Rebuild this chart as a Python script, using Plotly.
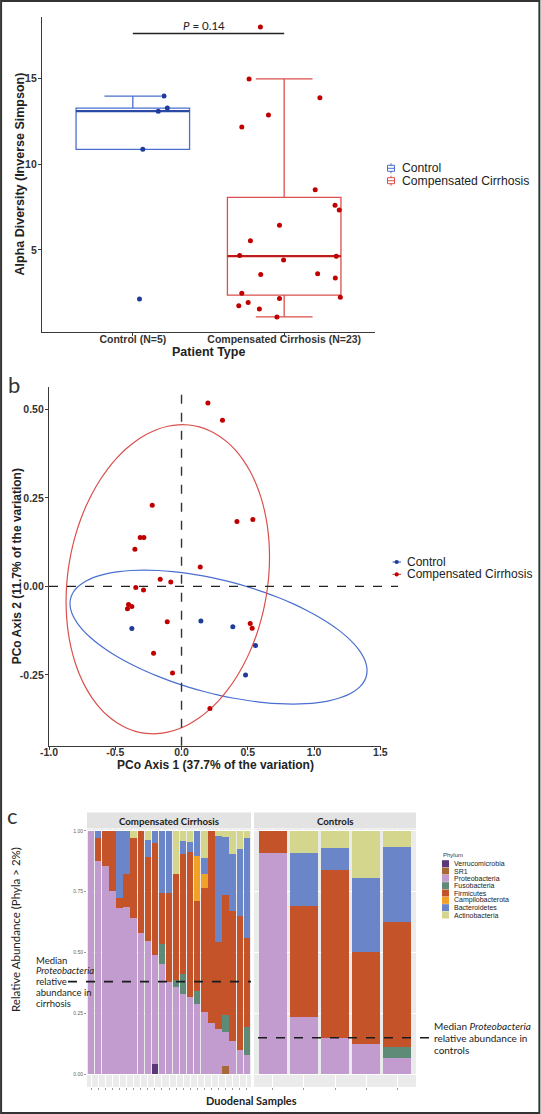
import numpy as np
import plotly.graph_objects as go

W, H = 541, 1114

# ---------------- Panel a: alpha diversity ----------------
a_groups = ["Control", "Compensated Cirrhosis"]
a_ticktext = ["Control (N=5)", "Compensated Cirrhosis (N=23)"]
ctrl_alpha = [2.13, 10.87, 13.10, 13.28, 13.98]
ctrl_xpos = [1.044, 1.066, 1.168, 1.228, 1.206]
cirr_alpha = [18.02, 14.98, 13.89, 12.88, 12.17, 8.51, 7.61, 7.32, 6.44, 5.53,
              4.67, 4.63, 4.40, 3.56, 3.60, 3.36, 2.47, 2.23, 2.15, 1.74,
              1.92, 1.55, 1.08]
cirr_xpos = [1.843, 1.768, 2.236, 1.896, 1.720, 2.205, 2.336, 2.364, 1.969, 1.777,
             1.706, 2.344, 1.996, 1.845, 2.221, 2.338, 1.720, 2.371, 1.969, 1.700,
             1.762, 1.836, 1.952]
p_text = "<i>P</i> = 0.14"
p_bracket_y = 17.63

# ---------------- Panel b: PCoA ----------------
pc_ctrl_x = [-0.375, 0.146, 0.387, 0.558, 0.483]
pc_ctrl_y = [-0.119, -0.098, -0.114, -0.167, -0.250]
pc_cirr_x = [0.199, 0.309, -0.221, 0.418, 0.538, -0.312, -0.284, -0.352, 0.141, -0.161,
             -0.081, -0.345, -0.287, -0.400, -0.408, -0.375, -0.108, 0.518, 0.533, -0.211,
             -0.068, 0.214]
pc_cirr_y = [0.518, 0.469, 0.229, 0.183, 0.189, 0.138, 0.138, 0.105, 0.055, 0.020,
             0.012, -0.003, -0.010, -0.051, -0.063, -0.057, -0.100, -0.105, -0.118, -0.189,
             -0.245, -0.345]

# ---------------- Panel c: phyla ----------------
phyla = ["Verrucomicrobia", "SR1", "Proteobacteria", "Fusobacteria", "Firmicutes",
         "Campilobacterota", "Bacteroidetes", "Actinobacteria"]
phyla_colors = ["#5a3878", "#a8693a", "#c29bcf", "#5e8a78", "#c4532a",
                "#f0a126", "#6a85c8", "#d3d68c"]
cirr_samples = list(range(1, 24))
ctrl_samples = list(range(1, 6))
cirr_ab = {
    "Verrucomicrobia": [0, 0, 0, 0, 0, 0, 0, 0, 0, .040, 0, 0, 0, 0, 0, 0, 0, 0, 0, 0, 0, 0, 0],
    "SR1": [0, 0, 0, 0, 0, 0, 0, 0, 0, 0, 0, 0, 0, 0, 0, 0, 0, 0, 0, .033, 0, 0, 0],
    "Proteobacteria": [1.0, .878, .857, .753, .684, .686, .641, .579, .549, .450, .451, .380,
                       .357, .328, .318, .288, .257, .211, .185, .141, .136, .099, .078],
    "Fusobacteria": [0, 0, 0, 0, 0, 0, 0, 0, 0, 0, .084, 0, .030, .082, 0, .054, 0, 0, 0,
                     .069, 0, 0, .117],
    "Firmicutes": [0, .092, .143, .247, .039, .136, .329, .421, .345, .459, .209, .364,
                   .436, .495, .594, .370, .507, .789, .360, .494, .535, .550, .365],
    "Campilobacterota": [0, 0, 0, 0, 0, 0, 0, 0, 0, 0, 0, 0, 0, 0, 0, .185, .058, 0, 0, 0, 0, 0, 0],
    "Bacteroidetes": [0, .030, 0, 0, .277, .178, 0, 0, .069, .051, .256, .256, 0, .055,
                      .044, .103, .068, 0, .434, .240, .233, .277, .410],
    "Actinobacteria": [0, 0, 0, 0, 0, 0, .030, 0, .037, 0, 0, 0, .177, .040, .044, 0,
                       .110, 0, .021, .023, .096, .074, .030],
}
ctrl_ab = {
    "Verrucomicrobia": [0, 0, 0, 0, 0],
    "SR1": [0, 0, 0, 0, 0],
    "Proteobacteria": [.908, .236, .149, .122, .066],
    "Fusobacteria": [0, 0, 0, 0, .044],
    "Firmicutes": [.092, .455, .691, .380, .516],
    "Campilobacterota": [0, 0, 0, 0, 0],
    "Bacteroidetes": [0, .217, .089, .306, .309],
    "Actinobacteria": [0, .092, .071, .192, .065],
}

BLUE_LINE, BLUE_PT, BLUE_MED = "#4a6fcf", "#1f3c9c", "#2b4aa6"
RED_LINE, RED_PT, RED_MED = "#d9504c", "#c00000", "#c01a1a"
ARIAL = "Liberation Sans"
CAL = "Lato"
BOX_W = 0.75

fig = go.Figure()

# ----- panel a traces -----
for xc, vals, lc, mc in [(1, ctrl_alpha, BLUE_LINE, BLUE_MED), (2, cirr_alpha, RED_LINE, RED_MED)]:
    fig.add_trace(go.Box(x=[xc] * len(vals), y=vals, width=BOX_W, showlegend=False,
                         boxpoints="outliers", quartilemethod="inclusive",
                         marker=dict(opacity=0, size=1), line=dict(color=lc, width=1.3),
                         fillcolor="rgba(255,255,255,0)", hoverinfo="skip",
                         xaxis="x", yaxis="y"))
    med = float(np.median(vals))
    fig.add_trace(go.Scatter(x=[xc - BOX_W / 2, xc + BOX_W / 2], y=[med, med], mode="lines",
                             line=dict(color=mc, width=2.2), showlegend=False, hoverinfo="skip",
                             xaxis="x", yaxis="y"))
fig.add_trace(go.Scatter(x=ctrl_xpos, y=ctrl_alpha, mode="markers", showlegend=False,
                         marker=dict(color=BLUE_PT, size=5), xaxis="x", yaxis="y"))
fig.add_trace(go.Scatter(x=cirr_xpos, y=cirr_alpha, mode="markers", showlegend=False,
                         marker=dict(color=RED_PT, size=5), xaxis="x", yaxis="y"))

# ----- panel b: ellipses (stat_ellipse, t-distribution, 95%) -----
def cov_trob(X, nu=5, maxit=25, tol=0.01):
    n, p = X.shape
    wt = np.ones(n)
    loc = X.mean(axis=0)
    w = np.sqrt(wt)
    Xc = X - loc
    for _ in range(maxit):
        w0 = w
        Xc = X - loc
        A = np.sqrt(w / w.sum())[:, None] * Xc
        _, d, Vt = np.linalg.svd(A, full_matrices=False)
        wX = Xc @ Vt.T @ np.diag(1.0 / d)
        Q = (wX ** 2).sum(axis=1)
        w = (wt * (nu + p)) / (nu + Q)
        loc = (w[:, None] * X).sum(axis=0) / w.sum()
        if np.all(np.abs(w - w0) < tol):
            break
    S = np.sqrt(w)[:, None] * Xc
    cov = S.T @ S / wt.sum()
    return loc, cov


def ellipse(xs, ys, level=0.95, segments=60):
    X = np.column_stack([xs, ys])
    n = len(xs)
    center, shape = cov_trob(X)
    dfd = n - 1
    fq = (dfd / 2.0) * ((1 - level) ** (-2.0 / dfd) - 1)  # F(2, dfd) quantile
    radius = np.sqrt(2 * fq)
    ang = np.arange(segments + 1) * 2 * np.pi / segments
    circ = np.column_stack([np.cos(ang), np.sin(ang)])
    L = np.linalg.cholesky(shape)
    e = center + radius * (circ @ L.T)
    return e[:, 0], e[:, 1]

for xs, ys, lc in [(pc_ctrl_x, pc_ctrl_y, BLUE_LINE), (pc_cirr_x, pc_cirr_y, RED_LINE)]:
    ex, ey = ellipse(xs, ys)
    fig.add_trace(go.Scatter(x=ex, y=ey, mode="lines", line=dict(color=lc, width=1.2, shape="spline"),
                             showlegend=False, xaxis="x2", yaxis="y2", hoverinfo="skip"))
fig.add_trace(go.Scatter(x=pc_ctrl_x, y=pc_ctrl_y, mode="markers", showlegend=False,
                         marker=dict(color=BLUE_PT, size=5), xaxis="x2", yaxis="y2"))
fig.add_trace(go.Scatter(x=pc_cirr_x, y=pc_cirr_y, mode="markers", showlegend=False,
                         marker=dict(color=RED_PT, size=5), xaxis="x2", yaxis="y2"))

# ----- panel c: stacked bars -----
for ph, col in zip(phyla, phyla_colors):
    fig.add_trace(go.Bar(x=cirr_samples, y=cirr_ab[ph], name=ph, marker=dict(color=col, line=dict(width=0)),
                         width=0.9, showlegend=False, xaxis="x3", yaxis="y3"))
    fig.add_trace(go.Bar(x=ctrl_samples, y=ctrl_ab[ph], name=ph, marker=dict(color=col, line=dict(width=0)),
                         width=0.9, showlegend=False, xaxis="x4", yaxis="y4"))

# ---------------- layout ----------------
def px_x(p):
    return p / W

def px_y(p):
    return 1 - p / H

tickfont_a = dict(family=ARIAL, size=10.5, color="#333333", weight="bold")
tickfont_b = dict(family=ARIAL, size=10.5, color="#333333", weight="bold")
tickfont_c = dict(family=ARIAL, size=5, color="#666666")

ya_rng = [0.2, 18.6]
yb_rng = [-0.450, 0.563]
xb_rng = [-1.0, 1.505]
yc_rng = [-0.0535, 1.008]
dom_a_x = [px_x(42), px_x(375)]
dom_a_y = [px_y(332), px_y(17)]
dom_b_x = [px_x(49), px_x(381)]
dom_b_y = [px_y(745.7), px_y(387)]
dom_c_y = [px_y(1087), px_y(829)]
dom_c1_x = [px_x(87), px_x(251)]
dom_c2_x = [px_x(254), px_x(416)]

axline = dict(showline=True, linecolor="#3a3a3a", linewidth=1.2, ticks="outside",
              ticklen=3, tickcolor="#3a3a3a", showgrid=False, zeroline=False, automargin=False)
cgrid = dict(showgrid=True, gridcolor="white", gridwidth=1, zeroline=False, showline=False,
             automargin=False)

fig.update_layout(
    width=W, height=H, margin=dict(l=0, r=0, t=0, b=0, autoexpand=False),
    paper_bgcolor="white", plot_bgcolor="white", barmode="stack", bargap=0,
    showlegend=False,
    xaxis=dict(domain=dom_a_x, range=[0.4, 2.6], tickvals=[1, 2], ticktext=a_ticktext,
               tickfont=tickfont_a, anchor="y", ticklabelstandoff=-6, **axline),
    yaxis=dict(domain=dom_a_y, range=ya_rng, tickvals=[5, 10, 15], tickfont=tickfont_a,
               anchor="x", ticklabelstandoff=-1, **axline),
    xaxis2=dict(domain=dom_b_x, range=xb_rng, tickvals=[-1, -0.5, 0, 0.5, 1, 1.5],
                ticktext=["-1.0", "-0.5", "0.0", "0.5", "1.0", "1.5"], tickfont=tickfont_b,
                anchor="y2", ticklabelstandoff=-6, **axline),
    yaxis2=dict(domain=dom_b_y, range=yb_rng, tickvals=[-0.25, 0, 0.25, 0.5],
                ticktext=["-0.25", "0.00", "0.25", "0.50"], tickfont=tickfont_b,
                anchor="x2", ticklabelstandoff=-1, **axline),
    xaxis3=dict(domain=dom_c1_x, range=[0.4, 23.6], tickvals=cirr_samples, ticktext=[""] * 23,
                ticks="outside", ticklen=2, tickcolor="#999999", anchor="y3", **cgrid),
    yaxis3=dict(domain=dom_c_y, range=yc_rng, tickvals=[0, 0.25, 0.5, 0.75, 1.0],
                ticktext=["0.00", "0.25", "0.50", "0.75", "1.00"], tickfont=tickfont_c,
                ticks="outside", ticklen=2, tickcolor="#999999", anchor="x3", **cgrid),
    xaxis4=dict(domain=dom_c2_x, range=[0.4, 5.6], tickvals=ctrl_samples, ticktext=[""] * 5,
                ticks="outside", ticklen=2, tickcolor="#999999", anchor="y4", **cgrid),
    yaxis4=dict(domain=dom_c_y, range=yc_rng, matches="y3", tickvals=[0, 0.25, 0.5, 0.75, 1.0],
                showticklabels=False, ticks="", anchor="x4", **cgrid),
)

shapes = []
annos = []


def note(x, y, text, size, family=ARIAL, color="#222222", xanchor="center", angle=0,
         xref="paper", yref="paper", yanchor="middle"):
    annos.append(dict(x=x, y=y, xref=xref, yref=yref, text=text, showarrow=False,
                      xanchor=xanchor, yanchor=yanchor, textangle=angle,
                      font=dict(family=family, size=size, color=color)))


def pline(x0, y0, x1, y1, color, width=1.0, dash="solid"):
    shapes.append(dict(type="line", xref="paper", yref="paper", x0=px_x(x0), x1=px_x(x1),
                       y0=px_y(y0), y1=px_y(y1), line=dict(color=color, width=width, dash=dash)))

# figure frame
shapes.append(dict(type="rect", xref="paper", yref="paper", x0=0.002, x1=0.997, y0=0.001, y1=0.999,
                   line=dict(color="#333333", width=2), fillcolor="rgba(0,0,0,0)"))

# panel a: p-value bracket and titles
shapes.append(dict(type="line", xref="x", yref="y", x0=1, x1=2, y0=p_bracket_y, y1=p_bracket_y,
                   line=dict(color="#222222", width=1.5)))
note(1.47, p_bracket_y, p_text, 11.5, family=CAL, xref="x", yref="y", yanchor="bottom")
note(px_x(20), (dom_a_y[0] + dom_a_y[1]) / 2, "<b>Alpha Diversity (Inverse Simpson)</b>", 12.5, angle=-90)
note((dom_a_x[0] + dom_a_x[1]) / 2, px_y(351.5), "<b>Patient Type</b>", 12.5)

# panel a legend (boxplot keys)
for i, (nm, lc) in enumerate(zip(a_groups, [BLUE_LINE, RED_LINE])):
    yc = 168.3 + 12.4 * i
    shapes.append(dict(type="rect", xref="paper", yref="paper", x0=px_x(387.5), x1=px_x(394.5),
                       y0=px_y(yc + 3), y1=px_y(yc - 3), line=dict(color=lc, width=1),
                       fillcolor="white"))
    pline(387.5, yc, 394.5, yc, lc, 1)
    pline(391, yc - 5, 391, yc - 3, lc, 1)
    pline(391, yc + 3, 391, yc + 5, lc, 1)
    note(px_x(400), px_y(yc), nm, 12.2, xanchor="left")

# panel b: reference lines
shapes.append(dict(type="line", xref="x2", yref="y2 domain", x0=0, x1=0, y0=0, y1=1,
                   line=dict(color="#333333", width=1.4, dash="dash")))
y0_paper = dom_b_y[0] + (0 - yb_rng[0]) / (yb_rng[1] - yb_rng[0]) * (dom_b_y[1] - dom_b_y[0])
shapes.append(dict(type="line", xref="paper", yref="paper", x0=dom_b_x[0], x1=px_x(398),
                   y0=y0_paper, y1=y0_paper, line=dict(color="#222222", width=1.4, dash="dash")))
note(px_x(6), px_y(384), "b", 22, family=CAL, color="#333333", xanchor="left")
note(px_x(17), (dom_b_y[0] + dom_b_y[1]) / 2, "<b>PCo Axis 2 (11.7% of the variation)</b>", 12, angle=-90)
note(px_x(215), px_y(765), "<b>PCo Axis 1 (37.7% of the variation)</b>", 12)

# panel b legend (line + point keys)
for i, (nm, lc, pc) in enumerate(zip(a_groups, [BLUE_LINE, RED_LINE], [BLUE_PT, RED_PT])):
    yc = 562.0 + 12.4 * i
    pline(392.5, yc, 401, yc, lc, 1.2)
    shapes.append(dict(type="circle", xref="paper", yref="paper", x0=px_x(394.6), x1=px_x(398.8),
                       y0=px_y(yc + 2.1), y1=px_y(yc - 2.1), fillcolor=pc, line=dict(width=0)))
    note(px_x(405), px_y(yc), nm, 12, xanchor="left")

# panel c: backgrounds and strips
for xr, lab in [("x3", "Compensated Cirrhosis"), ("x4", "Controls")]:
    shapes.append(dict(type="rect", xref=xr + " domain", yref="paper", x0=0, x1=1,
                       y0=dom_c_y[0], y1=dom_c_y[1], fillcolor="#ebebeb", line=dict(width=0),
                       layer="below"))
    shapes.append(dict(type="rect", xref=xr + " domain", yref="paper", x0=0, x1=1,
                       y0=px_y(828.5), y1=px_y(812.5), fillcolor="#e3e3e3", line=dict(width=0),
                       layer="below"))
    note(0.5, px_y(820.5), "<b>" + lab + "</b>", 9.7, family=CAL, color="#1a1a1a", xref=xr + " domain")

note(px_x(12), px_y(815), "c", 22, family=CAL, color="#333333")
note(px_x(15), px_y(930), "Relative Abundance (Phyla > 2%)", 11.5, family=CAL, angle=-90)
note((dom_c1_x[0] + dom_c2_x[1]) / 2, px_y(1100), "<b>Duodenal Samples</b>", 11, family=CAL)

# median Proteobacteria lines
def yc_paper(v):
    return dom_c_y[0] + (v - yc_rng[0]) / (yc_rng[1] - yc_rng[0]) * (dom_c_y[1] - dom_c_y[0])

med_cirr = float(np.median(cirr_ab["Proteobacteria"]))
med_ctrl = float(np.median(ctrl_ab["Proteobacteria"]))
shapes.append(dict(type="line", xref="paper", yref="paper", x0=px_x(68), x1=px_x(251),
                   y0=yc_paper(med_cirr), y1=yc_paper(med_cirr),
                   line=dict(color="#1a1a1a", width=1.6, dash="dash")))
shapes.append(dict(type="line", xref="paper", yref="paper", x0=px_x(258), x1=px_x(430),
                   y0=yc_paper(med_ctrl), y1=yc_paper(med_ctrl),
                   line=dict(color="#1a1a1a", width=1.6, dash="dash")))
cirr_note = ["Median", "<i>Proteobacteria</i>", "relative", "abundance in", "cirrhosis"]
for i, t in enumerate(cirr_note):
    note(px_x(34), px_y(960 + 10.8 * i), t, 9.5, family=CAL, xanchor="left")
ctrl_note = ["Median <i>Proteobacteria</i>", "relative abundance in", "controls"]
for i, t in enumerate(ctrl_note):
    note(px_x(432), px_y(1026 + 12 * i), t, 10, family=CAL, xanchor="left")

# panel c legend (compact)
note(px_x(441), px_y(854.7), "Phylum", 6, color="#333333", xanchor="left")
for i, (ph, col) in enumerate(zip(phyla, phyla_colors)):
    yc = 863.7 + 7.33 * i
    shapes.append(dict(type="rect", xref="paper", yref="paper", x0=px_x(442), x1=px_x(449),
                       y0=px_y(yc + 3.5), y1=px_y(yc - 3.5), fillcolor=col, line=dict(width=0)))
    note(px_x(452), px_y(yc), ph, 7, xanchor="left")

fig.update_layout(shapes=shapes, annotations=annos)
fig.write_html("out.html", config={"displayModeBar": False},
               post_script="document.body.style.margin='0px';")
